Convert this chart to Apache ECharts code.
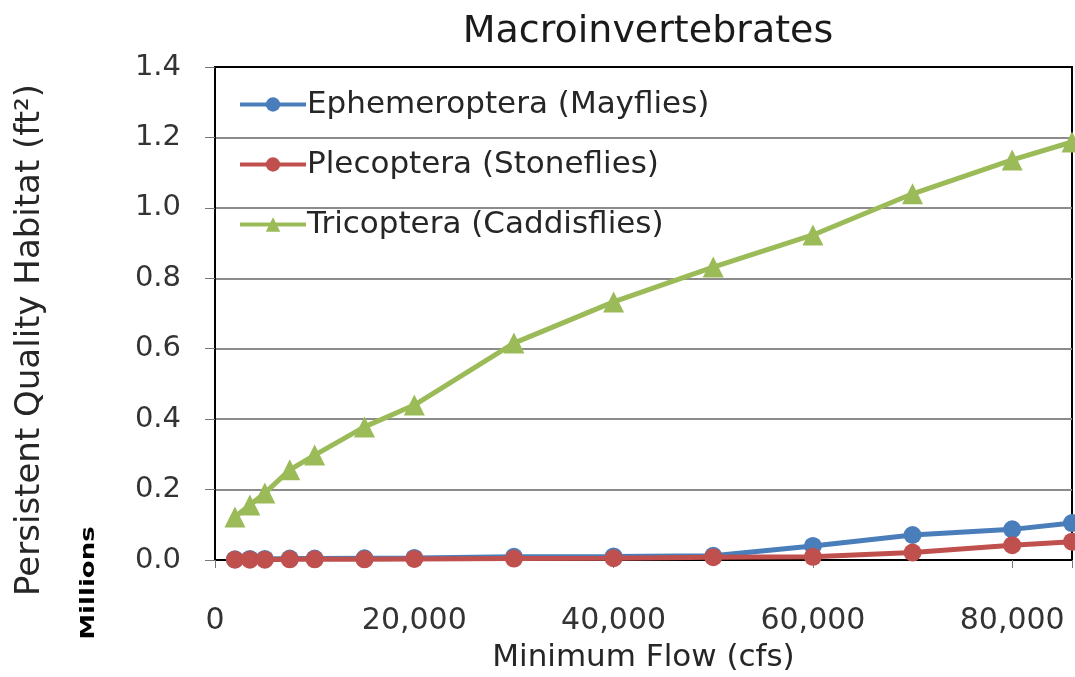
<!DOCTYPE html>
<html>
<head>
<meta charset="utf-8">
<script src="https://cdn.jsdelivr.net/npm/echarts@6/dist/echarts.min.js"></script>
<style>html,body{margin:0;padding:0;background:#fff;}#c{width:1075px;height:677px;}</style>
</head>
<body>
<div id="c"></div>
<script>
const flow = [2000, 3500, 5000, 7500, 10000, 15000, 20000, 30000, 40000, 50000, 60000, 70000, 80000, 86000];
const mayflies = [0.002, 0.003, 0.003, 0.004, 0.004, 0.005, 0.006, 0.009, 0.010, 0.012, 0.040, 0.071, 0.087, 0.105];
const stoneflies = [0.001, 0.001, 0.001, 0.002, 0.002, 0.002, 0.003, 0.004, 0.005, 0.008, 0.009, 0.021, 0.042, 0.052];
const caddisflies = [0.122, 0.156, 0.190, 0.256, 0.298, 0.378, 0.440, 0.616, 0.733, 0.832, 0.923, 1.040, 1.136, 1.187];
const seriesNames = ['Ephemeroptera (Mayflies)', 'Plecoptera (Stoneflies)', 'Tricoptera (Caddisflies)'];
const titleText = 'Macroinvertebrates';
const xTitle = 'Minimum Flow (cfs)';
const yTitle = 'Persistent Quality Habitat (ft²)';
const unitText = 'Millions';

const FONT = 'DejaVu Sans';
const chart = echarts.init(document.getElementById('c'), null, {renderer: 'canvas'});
function pairs(ys) { return flow.map((x, i) => [x, ys[i]]); }
function fmtX(v) { return v % 20000 === 0 ? v.toLocaleString('en-US') : ''; }

chart.setOption({
  animation: false,
  backgroundColor: '#fff',
  textStyle: {fontFamily: FONT},
  title: {
    text: titleText, left: 643, textAlign: 'center', top: 8,
    textStyle: {fontFamily: FONT, fontSize: 38, fontWeight: 'normal', color: '#1a1a1a'}
  },
  grid: {left: 215, right: 3, top: 67, bottom: 117, show: true, borderColor: '#000', borderWidth: 2,
         backgroundColor: '#fff', outerBoundsMode: 'none', containLabel: false},
  legend: {
    orient: 'vertical', left: 233, top: 83,
    itemWidth: 66, itemHeight: 18, itemGap: 27,
    lineStyle: {width: 4},
    textStyle: {fontFamily: FONT, fontSize: 31, color: '#262626', lineHeight: 33, padding: [0, 0, 0, -4]},
    data: seriesNames
  },
  xAxis: {
    type: 'value', min: 0, max: 86000, interval: 20000,
    name: xTitle, nameLocation: 'middle', nameGap: 82,
    nameTextStyle: {fontFamily: FONT, fontSize: 31, color: '#262626'},
    axisLine: {show: true, lineStyle: {color: '#000', width: 2}},
    axisTick: {show: true, length: 8, lineStyle: {color: '#777', width: 1}},
    axisLabel: {formatter: fmtX, fontFamily: FONT, fontSize: 30, color: '#333', margin: 46},
    splitLine: {show: false}
  },
  yAxis: {
    type: 'value', min: 0, max: 1.4, interval: 0.2,
    axisLine: {show: true, lineStyle: {color: '#000', width: 2}},
    axisTick: {show: true, length: 10, lineStyle: {color: '#777', width: 1}},
    axisLabel: {formatter: v => v.toFixed(1), fontFamily: FONT, fontSize: 29, color: '#333', margin: 34},
    splitLine: {show: true, showMaxLine: false, lineStyle: {color: '#8c8c8c', width: 2}}
  },
  graphic: [
    {type: 'text', x: 30, y: 340, rotation: Math.PI / 2,
     style: {text: yTitle, fontFamily: FONT, fontSize: 34, fill: '#262626', textAlign: 'center', textVerticalAlign: 'middle'}},
    {type: 'text', x: 89, y: 583, rotation: Math.PI / 2, scaleX: 1.45,
     style: {text: unitText, fontFamily: 'DejaVu Sans Condensed', fontSize: 20, fontWeight: 'bold', fill: '#000', textAlign: 'center', textVerticalAlign: 'middle'}}
  ],
  series: [
    {name: seriesNames[0], type: 'line', data: pairs(mayflies), symbol: 'circle', symbolSize: 18,
     itemStyle: {color: '#4a7ebb'}, lineStyle: {color: '#4a7ebb', width: 5}, z: 2},
    {name: seriesNames[1], type: 'line', data: pairs(stoneflies), symbol: 'circle', symbolSize: 18,
     itemStyle: {color: '#c0504d'}, lineStyle: {color: '#c0504d', width: 5}, z: 3},
    {name: seriesNames[2], type: 'line', data: pairs(caddisflies), symbol: 'triangle', symbolSize: 21,
     itemStyle: {color: '#9bbb59'}, lineStyle: {color: '#9bbb59', width: 5}, z: 4}
  ]
});
</script>
</body>
</html>
